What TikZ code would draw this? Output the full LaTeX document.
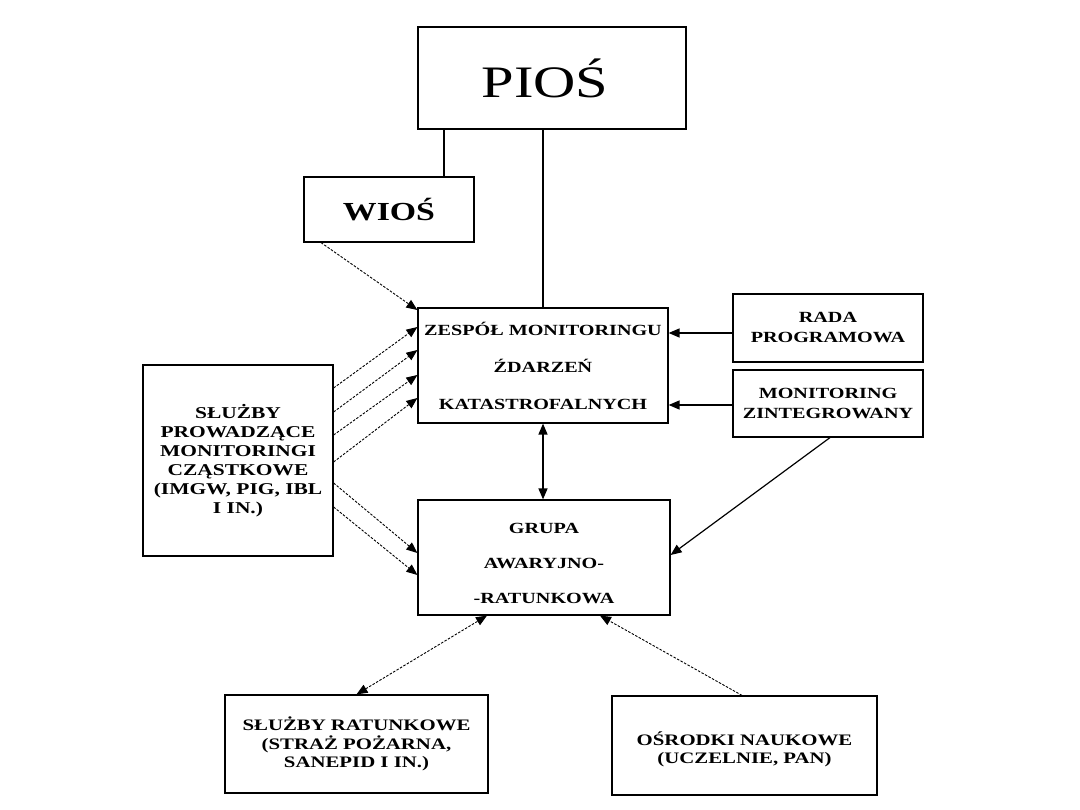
\documentclass[tikz,border=0pt]{standalone}
\usepackage{fontspec}
\setmainfont[FakeStretch=1.3]{Liberation Serif}
\usetikzlibrary{arrows.meta,calc}
\tikzset{
  every node/.style={font=\bfseries\fontsize{15.5}{20}\selectfont,text=black,inner sep=0pt,align=center},
  box/.style={draw=black,line width=1.2pt,fill=white},
  link/.style={line width=1.6pt,draw=black},
  feed/.style={->,line width=1.4pt,draw=black},
  hint/.style={->,line width=.9pt,draw=black,dash pattern=on 2.5pt off 1.5pt},
}
\begin{document}
\begin{tikzpicture}[x=1pt,y=-1pt,>={Triangle[length=11pt,width=9pt]}]
\path[use as bounding box] (0,0) rectangle (1080,810);
\fill[white] (0,0) rectangle (1080,810);
% inspectorates
\node[box,minimum width=268pt,minimum height=102pt,font=\fontsize{45}{50}\selectfont] (pios) at (552,78) {PIOŚ\hspace*{14pt}};
\node[box,minimum width=170pt,minimum height=65pt,font=\bfseries\fontsize{26}{30}\selectfont] (wios) at (389,209.5) {WIOŚ};
% central team and emergency group
\node[box,minimum width=250pt,minimum height=115pt,font=\bfseries\fontsize{15.5}{37}\selectfont] (zespol) at (543,365.5) {ZESPÓŁ MONITORINGU\\ŹDARZEŃ\\KATASTROFALNYCH};
\node[box,minimum width=252pt,minimum height=115pt,font=\bfseries\fontsize{15.5}{35}\selectfont] (grupa) at (544,557.5) {\rule{0pt}{23pt}GRUPA\\AWARYJNO-\\-RATUNKOWA};
% side inputs
\node[box,minimum width=190pt,minimum height=68pt] (rada) at (828,328) {RADA\\PROGRAMOWA};
\node[box,minimum width=190pt,minimum height=67pt] (mon) at (828,403.5) {MONITORING\\ZINTEGROWANY};
\node[box,minimum width=190pt,minimum height=191pt,font=\bfseries\fontsize{16.5}{19}\selectfont] (prow) at (238,460.5) {SŁUŻBY\\PROWADZĄCE\\MONITORINGI\\CZĄSTKOWE\\(IMGW, PIG, IBL\\I IN.)};
% partners of the emergency group
\node[box,minimum width=263pt,minimum height=98pt,font=\bfseries\fontsize{16}{18.5}\selectfont] (rat) at (356.5,744) {SŁUŻBY RATUNKOWE\\(STRAŻ POŻARNA,\\SANEPID I IN.)};
\node[box,minimum width=265pt,minimum height=99pt,font=\bfseries\fontsize{16}{18.5}\selectfont] (osr) at (744.5,745.5) {\rule{0pt}{21pt}OŚRODKI NAUKOWE\\(UCZELNIE, PAN)};
% hierarchy lines
\draw[link] (444,0 |- pios.south) -- (444,0 |- wios.north);
\draw[link] (543,0 |- pios.south) -- (543,0 |- zespol.north);
% solid feeds
\draw[feed] (rada.west |- 0,333) -- (zespol.east |- 0,333);
\draw[feed] (mon.west |- 0,405) -- (zespol.east |- 0,405);
\draw[feed,<->] (zespol.south) -- (zespol.south |- grupa.north);
\draw[feed,line width=1.2pt] (830,0 |- mon.south) -- (grupa.east |- 0,555);
% dotted reporting lines
\draw[hint] (321,0 |- wios.south) -- (zespol.west |- 0,310);
\foreach \a/\b in {388/327,412/350,435/375,462/398}
  \draw[hint] (prow.east |- 0,\a) -- (zespol.west |- 0,\b);
\foreach \a/\b in {483/553,507/575}
  \draw[hint] (prow.east |- 0,\a) -- (grupa.west |- 0,\b);
\draw[hint,<->] (rat.north) -- (487,0 |- grupa.south);
\draw[hint] (742,0 |- osr.north) -- (600,0 |- grupa.south);
\end{tikzpicture}
\end{document}
